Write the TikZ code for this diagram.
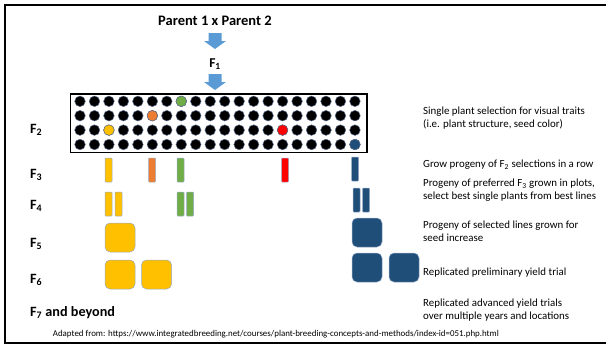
\documentclass[tikz,border=0pt]{standalone}
\usepackage{fontspec}
\setmainfont{Carlito}
\usetikzlibrary{calc}
\definecolor{arrowblue}{HTML}{5B9BD5}
\definecolor{selyellow}{HTML}{FFC000}
\definecolor{selorange}{HTML}{ED7D31}
\definecolor{selgreen}{HTML}{70AD47}
\definecolor{selred}{HTML}{FF0000}
\definecolor{selblue}{HTML}{1F4E79}
\definecolor{rimcol}{RGB}{95,110,140}
\definecolor{barline}{RGB}{150,170,200}
\tikzset{
  plant/.style={circle, inner sep=0pt, minimum size=10.6pt, fill=black, draw=rimcol, line width=0.5pt},
  gen/.style={font=\bfseries\fontsize{14.2}{16}\selectfont, anchor=base west, inner sep=0pt},
  note/.style={font=\fontsize{10.9}{12.8}\selectfont, anchor=west, align=left, inner sep=0pt},
  rowbar/.style={draw=barline, line width=0.5pt, rounded corners=0.8pt, inner sep=0pt, minimum width=7pt, minimum height=24pt},
  plotbox/.style={draw=barline, line width=0.5pt, rounded corners=5pt, inner sep=0pt, minimum width=30pt, minimum height=29pt},
  blockarrow/.style={fill=arrowblue}
}
\begin{document}
\begin{tikzpicture}[x=1pt,y=-1pt]
\useasboundingbox (0,0) rectangle (606,346);
% frame
\draw[line width=2pt] (610,5) -- (5,5) -- (5,343) -- (610,343);
% top labels and arrows
\node[font=\bfseries\fontsize{14.5}{17}\selectfont, inner sep=0pt] (parents) at (215,21) {Parent 1 x Parent 2};
\node[font=\bfseries\fontsize{13.5}{16}\selectfont, inner sep=0pt] (f1) at (215,64) {F\textsubscript{1}};
\coordinate (a1) at (215,33);
\coordinate (a2) at (215,74);
\foreach \a in {a1,a2}{
  \fill[blockarrow] ($(\a)+(-6.5,0)$) -- ($(\a)+(6.5,0)$) -- ($(\a)+(6.5,8)$) -- ($(\a)+(11,8)$) -- ($(\a)+(0,16)$) -- ($(\a)+(-11,8)$) -- ($(\a)+(-6.5,8)$) -- cycle;
}
% F2 grid
\node[draw=black, line width=1.5pt, minimum width=296.5pt, minimum height=58.5pt, inner sep=0pt, anchor=north west] (grid) at (69.5,93.3) {};
\foreach \r in {1,...,4}{
  \foreach \c in {1,...,20}{
    \node[plant] (p-\r-\c) at ({80+(\c-1)*14.47},{101.3+(\r-1)*14.4}) {};
  }
}
\node[plant, fill=selgreen] at (p-1-8) {};
\node[plant, fill=selorange] at (p-2-6) {};
\node[plant, fill=selyellow] at (p-3-3) {};
\node[plant, fill=selred] at (p-3-15) {};
\node[plant, fill=selblue] at (p-4-20) {};
% generation labels
\node[gen] (g2) at (30,133) {F\textsubscript{2}};
\node[gen] (g3) at (30,178) {F\textsubscript{3}};
\node[gen] (g4) at (30,209) {F\textsubscript{4}};
\node[gen] (g5) at (30,247) {F\textsubscript{5}};
\node[gen] (g6) at (30,283) {F\textsubscript{6}};
\node[gen] (g7) at (30,316) {F\textsubscript{7} and beyond};
% F3 rows
\node[rowbar, fill=selyellow] (y3) at (108.5,170) {};
\node[rowbar, fill=selorange] (o3) at (152,170) {};
\node[rowbar, fill=selgreen] (gr3) at (180.5,170) {};
\node[rowbar, fill=selred] (r3) at (285,170) {};
\node[rowbar, fill=selblue] (b3) at (355,169) {};
% F4 plots
\node[rowbar, fill=selyellow] (y4a) at (108.5,204) {};
\node[rowbar, fill=selyellow] (y4b) at (118.5,204) {};
\node[rowbar, fill=selgreen] (gr4a) at (180.5,204) {};
\node[rowbar, fill=selgreen] (gr4b) at (190,204) {};
\node[rowbar, fill=selblue] (b4a) at (356.5,200) {};
\node[rowbar, fill=selblue] (b4b) at (366,200) {};
% F5
\node[plotbox, fill=selyellow] (y5) at (120,237.5) {};
\node[plotbox, fill=selblue] (b5) at (367,232.5) {};
% F6
\node[plotbox, fill=selyellow] (y6a) at (120,274.5) {};
\node[plotbox, fill=selyellow] (y6b) at (156.5,274.5) {};
\node[plotbox, fill=selblue] (b6a) at (367,267.5) {};
\node[plotbox, fill=selblue] (b6b) at (404,267.5) {};
% notes
\node[note] (n2) at (423,118) {Single plant selection for visual traits\\(i.e. plant structure, seed color)};
\node[note] (n3) at (423,165) {Grow progeny of F\textsubscript{2} selections in a row};
\node[note] (n4) at (423,190.5) {Progeny of preferred F\textsubscript{3} grown in plots,\\select best single plants from best lines};
\node[note] (n5) at (423,231) {Progeny of selected lines grown for\\seed increase};
\node[note] (n6) at (423,273) {Replicated preliminary yield trial};
\node[note] (n7) at (423,310) {Replicated advanced yield trials\\over multiple years and locations};
% footer
\node[font=\fontsize{8.9}{10}\selectfont, anchor=west, inner sep=0pt] (src) at (52.7,334) {Adapted from: https://www.integratedbreeding.net/courses/plant-breeding-concepts-and-methods/index-id=051.php.html};
\end{tikzpicture}
\end{document}
